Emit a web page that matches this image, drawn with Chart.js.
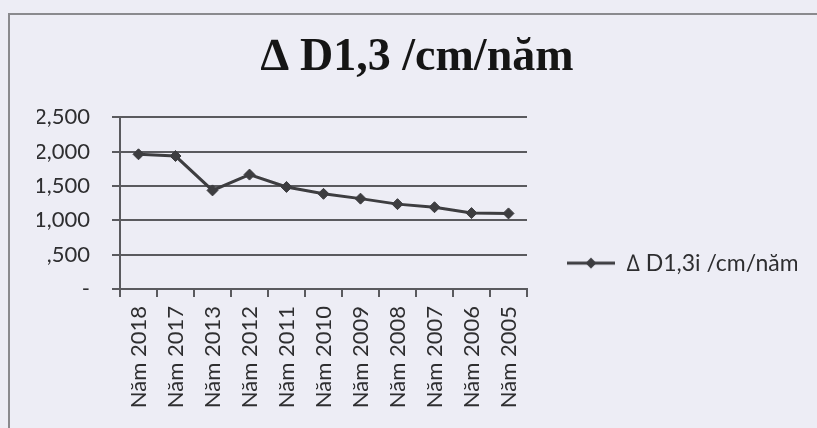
<!DOCTYPE html>
<html>
<head>
<meta charset="utf-8">
<script src="https://cdn.jsdelivr.net/npm/chart.js@4.4.1/dist/chart.umd.min.js"></script>
<style>
  html, body { margin: 0; padding: 0; background: #ededf5; }
  #frame { position: absolute; left: 0; top: 0; width: 817px; height: 428px; overflow: hidden; }
  #box { position: absolute; left: 8px; top: 13px; width: 900px; height: 500px;
         border-left: 2px solid #8a8a8e; border-top: 2px solid #8a8a8e; }
  canvas { position: absolute; left: 0; top: 0; }
</style>
</head>
<body>
<div id="frame">
  <div id="box"></div>
  <canvas id="c" width="817" height="428"></canvas>
</div>
<script>
// Diameter increment per year, by survey year
const years = ['Năm 2018', 'Năm 2017', 'Năm 2013', 'Năm 2012', 'Năm 2011', 'Năm 2010',
               'Năm 2009', 'Năm 2008', 'Năm 2007', 'Năm 2006', 'Năm 2005'];
const growth = [1.960, 1.935, 1.435, 1.665, 1.485, 1.385, 1.315, 1.235, 1.190, 1.105, 1.100];
const yTickLabels = ['-', ',500', '1,000', '1,500', '2,000', '2,500'];
const chartTitle = '\u2206 D1,3 /cm/năm';
const seriesName = '\u2206 D1,3i /cm/năm';

const ink = '#3d3d40';
const gridColor = '#5a5a5e';
const labelFont = 'Lato, "Open Sans", sans-serif';

// Legend symbol: short line with a diamond in the middle
function legendSymbol() {
  const c = document.createElement('canvas');
  c.width = 48; c.height = 14;
  const g = c.getContext('2d');
  g.strokeStyle = ink; g.lineWidth = 3;
  g.beginPath(); g.moveTo(0, 7); g.lineTo(48, 7); g.stroke();
  g.fillStyle = ink;
  g.beginPath(); g.moveTo(24, 1.5); g.lineTo(29.5, 7); g.lineTo(24, 12.5); g.lineTo(18.5, 7); g.closePath(); g.fill();
  return c;
}

// Moves the legend down beside the lower half of the plot
const legendShift = {
  id: 'legendShift',
  afterLayout(chart) {
    const l = chart.legend;
    if (!l) return;
    l.top += 60; l.bottom += 60;
  }
};

new Chart(document.getElementById('c'), {
  type: 'line',
  data: {
    labels: years,
    datasets: [{
      label: seriesName,
      data: growth.map(v => v * 1000),
      borderColor: ink,
      backgroundColor: ink,
      borderWidth: 3,
      pointStyle: 'rectRot',
      pointRadius: 5.5,
      pointBorderWidth: 1,
      tension: 0,
      fill: false
    }]
  },
  options: {
    responsive: false,
    animation: false,
    events: [],
    layout: { padding: { left: 37, right: 20, top: 18, bottom: 10 } },
    plugins: {
      title: {
        display: true,
        text: chartTitle,
        color: '#151515',
        font: { family: '"Liberation Serif", "Times New Roman", serif', size: 46, weight: 'bold' },
        padding: { top: 13, bottom: 31 }
      },
      legend: {
        position: 'right',
        align: 'center',
        fullSize: false,
        maxWidth: 270,
        labels: {
          color: '#2e2e30',
          font: { family: labelFont, size: 23 },
          usePointStyle: true,
          pointStyle: legendSymbol(),
          pointStyleWidth: 48,
          boxHeight: 14,
          padding: 40
        }
      },
      tooltip: { enabled: false }
    },
    scales: {
      x: {
        offset: true,
        grid: { offset: true, drawOnChartArea: false, drawTicks: true, tickLength: 8, color: gridColor, lineWidth: 2 },
        border: { color: gridColor, width: 2 },
        ticks: {
          color: '#2e2e30',
          font: { family: labelFont, size: 22 },
          minRotation: 90, maxRotation: 90, autoSkip: false, padding: 9
        },
        afterFit(scale) { scale.height = 129; }
      },
      y: {
        min: 0, max: 2500,
        grid: { color: gridColor, lineWidth: 2, drawTicks: true, tickLength: 8 },
        border: { color: gridColor, width: 2 },
        ticks: {
          stepSize: 500,
          color: '#2e2e30',
          font: { family: labelFont, size: 22 },
          padding: 22,
          callback: (v, i) => yTickLabels[i]
        },
        afterFit(scale) { scale.width = 83; }
      }
    }
  },
  plugins: [legendShift]
});
</script>
</body>
</html>
